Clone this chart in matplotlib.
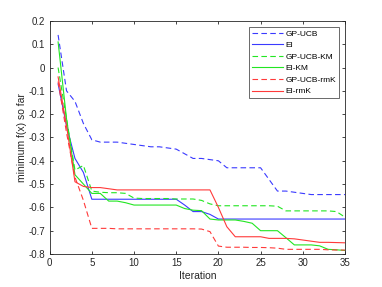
import numpy as np
import matplotlib
matplotlib.use("Agg")
import matplotlib.pyplot as plt

# iterations 1..35
iters = np.arange(1, 36)

gp_ucb = [0.14, -0.10, -0.145, -0.24, -0.31, -0.32, -0.32, -0.32, -0.325, -0.33,
          -0.335, -0.34, -0.34, -0.345, -0.35, -0.37, -0.39, -0.39, -0.395, -0.40,
          -0.43, -0.43, -0.43, -0.43, -0.43, -0.48, -0.53, -0.53, -0.535, -0.54,
          -0.545, -0.545, -0.545, -0.545, -0.545]
ei = [-0.07, -0.25, -0.39, -0.45, -0.565, -0.565, -0.565, -0.565, -0.565, -0.565,
      -0.565, -0.565, -0.565, -0.565, -0.565, -0.59, -0.618, -0.618, -0.63, -0.65,
      -0.65, -0.65, -0.65, -0.65, -0.65, -0.65, -0.65, -0.65, -0.65, -0.65,
      -0.65, -0.65, -0.65, -0.65, -0.65]
gp_ucb_km = [0.0, -0.22, -0.44, -0.42, -0.53, -0.535, -0.537, -0.537, -0.54, -0.56,
             -0.562, -0.562, -0.562, -0.562, -0.564, -0.564, -0.564, -0.57, -0.585, -0.593,
             -0.593, -0.593, -0.593, -0.593, -0.593, -0.593, -0.595, -0.615, -0.615, -0.615,
             -0.615, -0.615, -0.615, -0.618, -0.642]
ei_km = [0.11, -0.22, -0.46, -0.50, -0.54, -0.54, -0.573, -0.573, -0.58, -0.59,
         -0.59, -0.59, -0.59, -0.59, -0.59, -0.605, -0.612, -0.614, -0.65, -0.654,
         -0.654, -0.654, -0.66, -0.668, -0.70, -0.70, -0.70, -0.73, -0.761, -0.761,
         -0.761, -0.765, -0.78, -0.782, -0.785]
gp_ucb_rmk = [-0.06, -0.28, -0.47, -0.57, -0.69, -0.69, -0.69, -0.692, -0.692, -0.692,
              -0.692, -0.692, -0.692, -0.692, -0.692, -0.692, -0.692, -0.693, -0.704, -0.766,
              -0.771, -0.771, -0.771, -0.772, -0.772, -0.773, -0.775, -0.78, -0.78, -0.78,
              -0.78, -0.78, -0.782, -0.783, -0.783]
ei_rmk = [-0.04, -0.25, -0.49, -0.51, -0.515, -0.515, -0.52, -0.525, -0.525, -0.525,
          -0.525, -0.525, -0.525, -0.525, -0.525, -0.525, -0.525, -0.525, -0.525, -0.60,
          -0.683, -0.726, -0.726, -0.726, -0.726, -0.733, -0.733, -0.733, -0.735, -0.74,
          -0.745, -0.75, -0.75, -0.751, -0.752]

x_ticks = [0, 5, 10, 15, 20, 25, 30, 35]
y_ticks = [-0.8, -0.7, -0.6, -0.5, -0.4, -0.3, -0.2, -0.1, 0, 0.1, 0.2]
y_tick_labels = ['-0.8', '-0.7', '-0.6', '-0.5', '-0.4', '-0.3', '-0.2', '-0.1', '0', '0.1', '0.2']

plt.rcParams['font.family'] = ['Liberation Sans', 'DejaVu Sans']

fig = plt.figure(figsize=(3.82, 2.87), dpi=100)
ax = fig.add_axes([0.130, 0.115, 0.773, 0.812])

blue = '#3a3aff'
green = '#22e622'
red = '#ff3a3a'
lw = 0.8
dash = (0, (5, 3))

ax.plot(iters, gp_ucb, color=blue, linestyle=dash, lw=lw, label='GP-UCB')
ax.plot(iters, ei, color=blue, linestyle='-', lw=lw, label='EI')
ax.plot(iters, gp_ucb_km, color=green, linestyle=dash, lw=lw, label='GP-UCB-KM')
ax.plot(iters, ei_km, color=green, linestyle='-', lw=lw, label='EI-KM')
ax.plot(iters, gp_ucb_rmk, color=red, linestyle=dash, lw=lw, label='GP-UCB-rmK')
ax.plot(iters, ei_rmk, color=red, linestyle='-', lw=lw, label='EI-rmK')

ax.set_xlim(0, 35)
ax.set_ylim(-0.8, 0.2)
ax.set_xticks(x_ticks)
ax.set_yticks(y_ticks)
ax.set_yticklabels(y_tick_labels)
ax.tick_params(direction='in', top=True, right=True, length=2.5, width=0.6,
               labelsize=7, colors='#262626', pad=3)
for s in ax.spines.values():
    s.set_color('#262626')
    s.set_linewidth(0.6)

ax.set_xlabel('Iteration', fontsize=7.5, color='#262626', labelpad=2)
ax.set_ylabel('minimum f(x) so far', fontsize=7.5, color='#262626', labelpad=1)

leg = ax.legend(loc='upper right', fontsize=6, frameon=True, fancybox=False,
                edgecolor='#262626', handlelength=3.8, handletextpad=0.25,
                labelspacing=0.45, borderpad=0.35, borderaxespad=0.7)
leg.get_frame().set_linewidth(0.6)

fig.savefig('out.png', dpi=100)
